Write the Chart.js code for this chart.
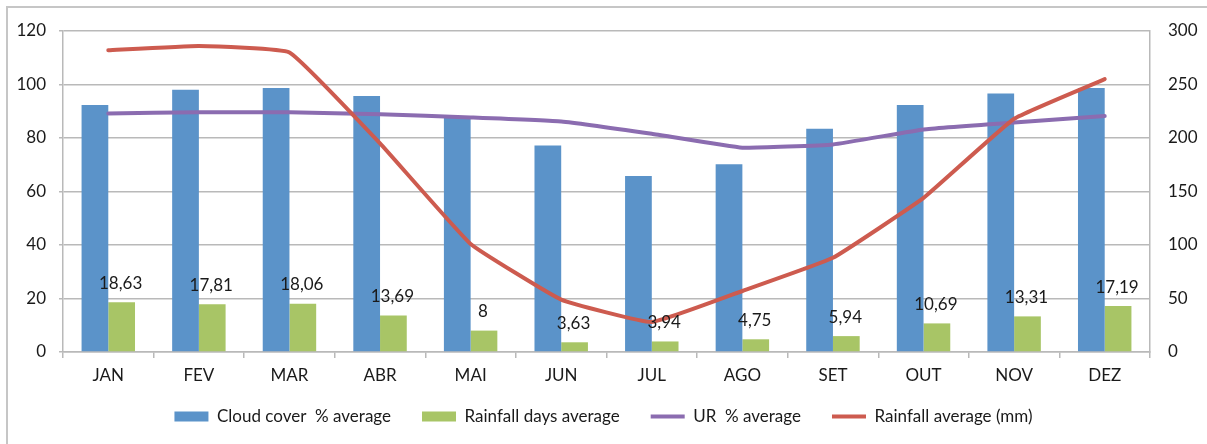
<!DOCTYPE html>
<html>
<head>
<meta charset="utf-8">
<script src="https://cdn.jsdelivr.net/npm/chart.js@4.4.1/dist/chart.umd.min.js"></script>
<style>
  html, body { margin: 0; padding: 0; background: #fff; }
  #wrap { position: relative; width: 1207px; height: 444px; overflow: hidden; }
  #frame { position: absolute; left: 6px; top: 6px; width: 1300px; height: 500px;
           border-left: 2px solid #c6c6c6; border-top: 2px solid #c6c6c6; pointer-events: none; }
  canvas { position: absolute; left: 0; top: 0; }
</style>
</head>
<body>
<div id="wrap">
  <canvas id="chart" width="1207" height="444"></canvas>
  <div id="frame"></div>
</div>
<script>
// --- DATA ---
const months = ["JAN", "FEV", "MAR", "ABR", "MAI", "JUN", "JUL", "AGO", "SET", "OUT", "NOV", "DEZ"];
const cloudCover = [92.3, 98, 98.7, 95.7, 87.5, 77.2, 65.8, 70.2, 83.5, 92.3, 96.6, 98.7];
const rainfallDays = [18.63, 17.81, 18.06, 13.69, 8, 3.63, 3.94, 4.75, 5.94, 10.69, 13.31, 17.19];
const humidity = [89.2, 89.6, 89.6, 88.9, 87.7, 86.2, 81.6, 76.4, 77.6, 83.2, 85.8, 88.2];
const rainfall = [282, 286, 280, 195, 101, 49, 28, 57, 88, 144, 218, 255];

const leftTicks = [0, 20, 40, 60, 80, 100, 120];
const rightTicks = [0, 50, 100, 150, 200, 250, 300];

const FONT = "Lato";
const FONT_SIZE = 17;
const TEXT = "#1a1a1a";
const GRID = "#b9b9b9";
const LEGEND_GAP = 31;

// Draws the value labels above the green bars
const barLabels = {
  id: "barLabels",
  afterDatasetsDraw(chart) {
    const ctx = chart.ctx;
    const meta = chart.getDatasetMeta(1);
    ctx.save();
    ctx.font = FONT_SIZE + "px " + FONT;
    ctx.fillStyle = TEXT;
    ctx.textAlign = "center";
    ctx.textBaseline = "middle";
    meta.data.forEach((bar, i) => {
      ctx.fillText(String(rainfallDays[i]).replace(".", ","), bar.x - 1, bar.y - 19);
    });
    ctx.restore();
  }
};

// The legend uses one padding for both directions; pull it up so the row sits under the axis labels
const legendShift = {
  id: "legendShift",
  afterLayout(chart) {
    chart.legend.top -= 9;
    chart.legend.bottom -= 9;
  }
};

new Chart(document.getElementById("chart"), {
  data: {
    labels: months,
    datasets: [
      {
        type: "bar",
        label: "Cloud cover  % average",
        data: cloudCover,
        backgroundColor: "#5b93c9",
        yAxisID: "y",
        order: 2,
      },
      {
        type: "bar",
        label: "Rainfall days average",
        data: rainfallDays,
        backgroundColor: "#a8c566",
        yAxisID: "y",
        order: 2,
      },
      {
        type: "line",
        label: "UR  % average",
        data: humidity,
        borderColor: "#8b6cb0",
        backgroundColor: "#8b6cb0",
        borderWidth: 4,
        tension: 0.1,
        pointRadius: 0,
        borderCapStyle: "round",
        borderJoinStyle: "round",
        yAxisID: "y",
        order: 1,
      },
      {
        type: "line",
        label: "Rainfall average (mm)",
        data: rainfall,
        borderColor: "#cd5b4f",
        backgroundColor: "#cd5b4f",
        borderWidth: 4,
        tension: 0.1,
        pointRadius: 0,
        borderCapStyle: "round",
        borderJoinStyle: "round",
        yAxisID: "y2",
        order: 0,
      }
    ]
  },
  options: {
    responsive: false,
    animation: false,
    events: [],
    layout: { padding: { top: 31, left: 0, right: 0, bottom: 0 } },
    datasets: {
      bar: { categoryPercentage: 0.59, barPercentage: 1 }
    },
    plugins: {
      tooltip: { enabled: false },
      legend: {
        position: "bottom",
        maxHeight: 61,
        labels: {
          font: { family: FONT, size: FONT_SIZE },
          color: TEXT,
          padding: LEGEND_GAP,
          usePointStyle: true,
          pointStyleWidth: 34,
          boxHeight: 10,
          sort: (a, b) => a.datasetIndex - b.datasetIndex,
          generateLabels(chart) {
            return chart.data.datasets.map((ds, i) => ({
              text: ds.label,
              fillStyle: ds.type === "bar" ? ds.backgroundColor : ds.borderColor,
              strokeStyle: ds.type === "bar" ? ds.backgroundColor : ds.borderColor,
              lineWidth: ds.type === "bar" ? 0 : 4,
              pointStyle: ds.type === "bar" ? "rect" : "line",
              fontColor: TEXT,
              hidden: false,
              datasetIndex: i
            }));
          }
        }
      }
    },
    scales: {
      x: {
        offset: true,
        grid: { display: true, drawOnChartArea: false, drawTicks: true, tickLength: 6, color: GRID, lineWidth: 1.5, offset: true },
        border: { display: true, color: GRID, width: 1.5 },
        ticks: { font: { family: FONT, size: FONT_SIZE }, color: TEXT, padding: 7, maxRotation: 0 },
        afterFit(scale) { scale.height = 34; }
      },
      y: {
        position: "left",
        min: 0,
        max: 120,
        afterBuildTicks(scale) { scale.ticks = leftTicks.map(v => ({ value: v })); },
        grid: { color: GRID, lineWidth: 1.5, tickLength: 4 },
        border: { display: true, color: GRID, width: 1.5 },
        ticks: { font: { family: FONT, size: FONT_SIZE }, color: TEXT, padding: 13 },
        afterFit(scale) { scale.width = 63; }
      },
      y2: {
        position: "right",
        min: 0,
        max: 300,
        afterBuildTicks(scale) { scale.ticks = rightTicks.map(v => ({ value: v })); },
        grid: { drawOnChartArea: false, drawTicks: false },
        border: { display: true, color: GRID, width: 1.5 },
        ticks: { font: { family: FONT, size: FONT_SIZE }, color: TEXT, padding: 18 },
        afterFit(scale) { scale.width = 57; }
      }
    }
  },
  plugins: [barLabels, legendShift]
});
</script>
</body>
</html>
